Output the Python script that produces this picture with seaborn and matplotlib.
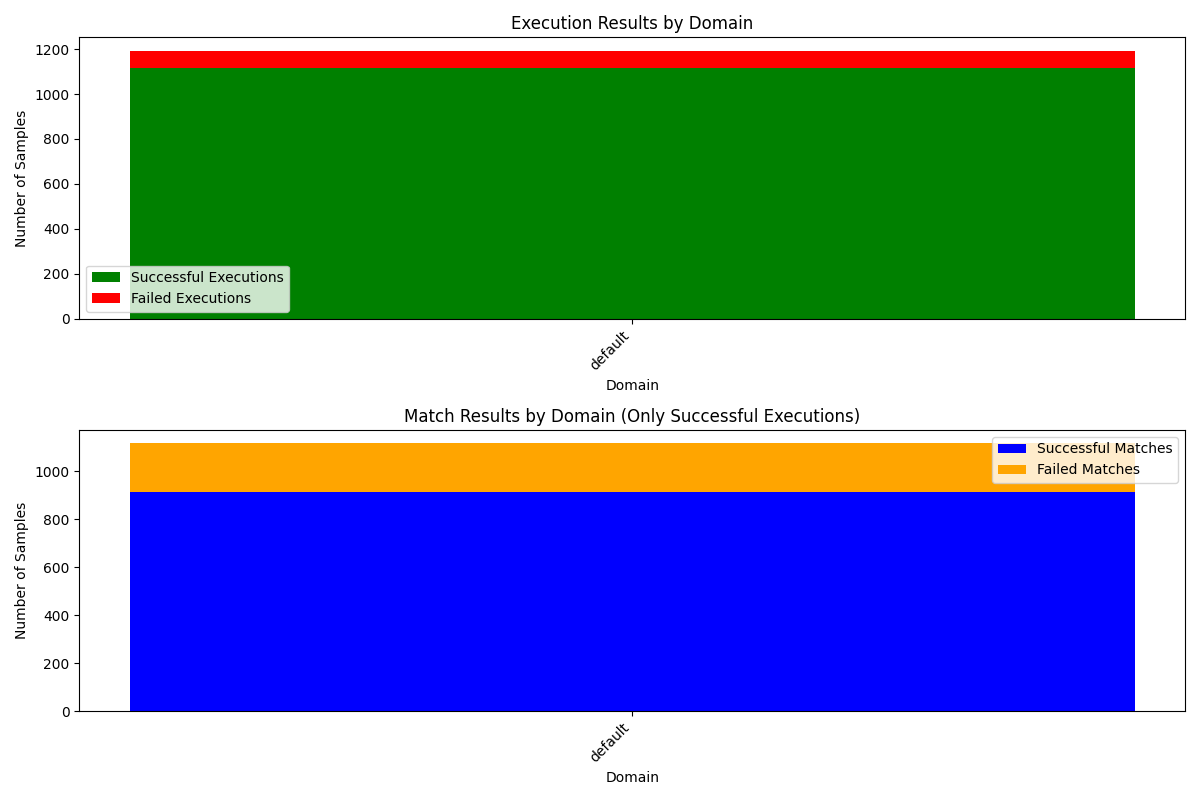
import matplotlib
matplotlib.use("Agg")
import matplotlib.pyplot as plt
import seaborn as sns
import pandas as pd
from matplotlib.patches import Patch

domains = ["default"]
exec_success = [1118]
exec_failed = [75]
match_success = [916]
match_failed = [202]

exec_total = [s + f for s, f in zip(exec_success, exec_failed)]
match_total = [s + f for s, f in zip(match_success, match_failed)]

df = pd.DataFrame({
    "domain": domains,
    "exec_success": exec_success,
    "exec_total": exec_total,
    "match_success": match_success,
    "match_total": match_total,
})

fig, axes = plt.subplots(2, 1, figsize=(12, 8), dpi=100)


def stacked(ax, bottom_col, total_col, c_bottom, c_top, labels, title, loc):
    # draw the total first, then the lower segment on top of it
    sns.barplot(data=df, x="domain", y=total_col, color=c_top, saturation=1,
                width=0.8, linewidth=0, ax=ax)
    sns.barplot(data=df, x="domain", y=bottom_col, color=c_bottom, saturation=1,
                width=0.8, linewidth=0, ax=ax)
    ax.set_xlim(-0.44, 0.44)
    ax.set_title(title)
    ax.set_xlabel("Domain")
    ax.set_ylabel("Number of Samples")
    plt.setp(ax.get_xticklabels(), rotation=45, ha="right")
    handles = [Patch(facecolor=c_bottom, linewidth=0, label=labels[0]),
               Patch(facecolor=c_top, linewidth=0, label=labels[1])]
    ax.legend(handles=handles, loc=loc)


stacked(axes[0], "exec_success", "exec_total", "green", "red",
        ["Successful Executions", "Failed Executions"],
        "Execution Results by Domain", "lower left")
stacked(axes[1], "match_success", "match_total", "blue", "orange",
        ["Successful Matches", "Failed Matches"],
        "Match Results by Domain (Only Successful Executions)", "upper right")

plt.tight_layout()
plt.savefig("out.png", dpi=100)
